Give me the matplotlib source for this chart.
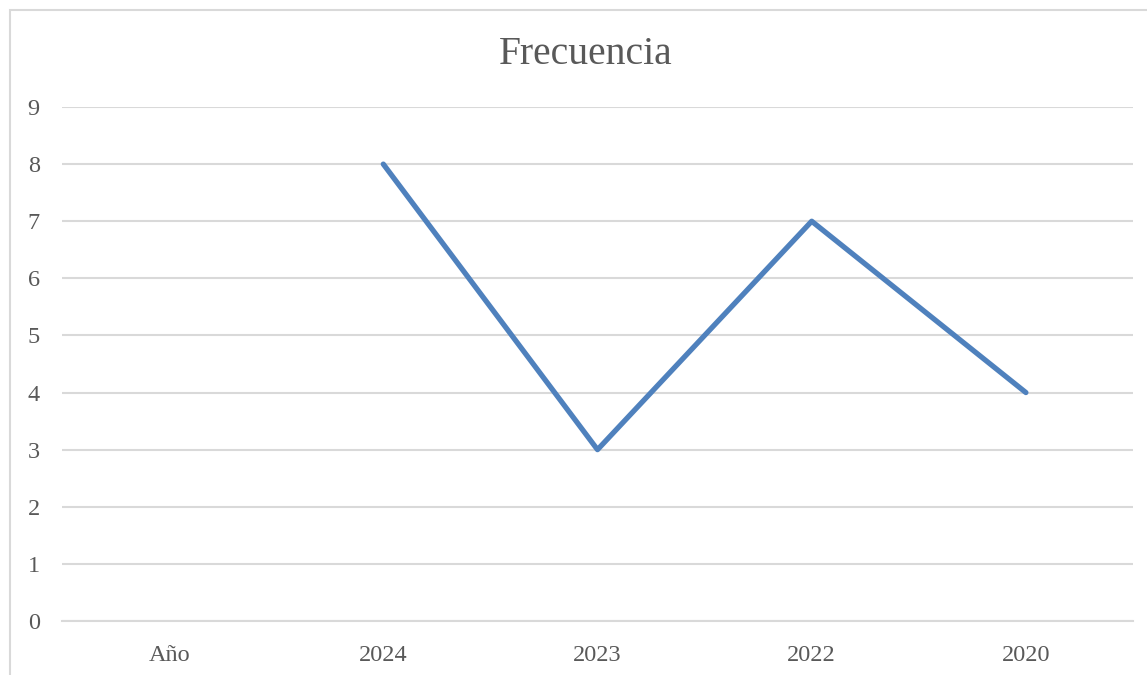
import matplotlib
matplotlib.use("Agg")
import matplotlib.pyplot as plt
import numpy as np
from matplotlib.patches import Rectangle

categories = ["Año", "2024", "2023", "2022", "2020"]
values = [np.nan, 8, 3, 7, 4]
yticks = list(range(0, 10))

W, H = 1147, 675
fig = plt.figure(figsize=(W/100, H/100), dpi=100)
plt.rcParams['font.family'] = ['Liberation Serif', 'DejaVu Serif']

# chart border
fig.patches.append(Rectangle((10/W, -0.1), 1.2, 1 - 10/H + 0.1, transform=fig.transFigure,
                             fill=False, edgecolor="#D9D9D9", linewidth=1.5))

ax = fig.add_axes([62/W, 1 - 621/H, (1133-62)/W, (621-107)/H])
x = np.arange(len(categories))
ax.plot(x, values, color="#4F81BD", linewidth=3.8, solid_capstyle="round", solid_joinstyle="round", zorder=3)
ax.set_xlim(-0.5, len(categories) - 0.5)
ax.set_ylim(0, 9)
ax.set_yticks(yticks)
ax.set_xticks(x)
ax.set_xticklabels(categories)
ax.grid(axis="y", color="#D9D9D9", linewidth=1.5)
ax.set_axisbelow(True)
for s in ["top", "right", "left"]:
    ax.spines[s].set_visible(False)
ax.spines["bottom"].set_color("#D9D9D9")
ax.spines["bottom"].set_linewidth(1.5)
ax.tick_params(axis="both", length=0, labelsize=17.5, colors="#595959")
ax.tick_params(axis="y", pad=16)
ax.tick_params(axis="x", pad=17)
fig.text(586/W, 1 - 55/H, "Frecuencia", ha="center", va="center", fontsize=28.5, color="#595959")

fig.savefig("out.png", dpi=100)
